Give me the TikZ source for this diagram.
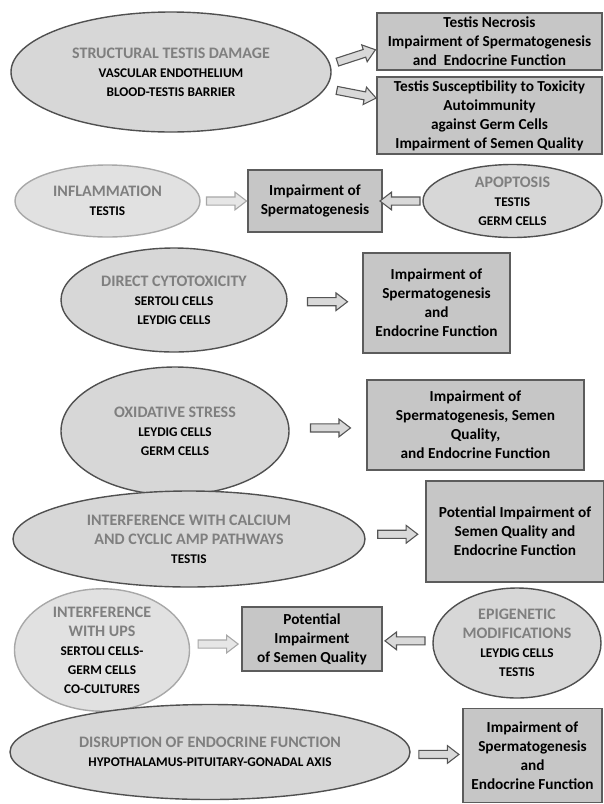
\documentclass[tikz,border=0pt]{standalone}
\usepackage{fontspec}
\setmainfont{Carlito}
\usepackage{tikz}
\usetikzlibrary{shapes,positioning}

\definecolor{ellfill}{HTML}{D7D7D7}
\definecolor{ellline}{HTML}{505050}
\definecolor{softfill}{HTML}{E1E1E1}
\definecolor{softline}{HTML}{A8A8A8}
\definecolor{boxfill}{HTML}{C6C6C6}
\definecolor{boxline}{HTML}{5C5C5C}
\definecolor{ttlgray}{HTML}{7F7F7F}
\definecolor{arrfill}{HTML}{D9D9D9}
\definecolor{arrline}{HTML}{555555}
\definecolor{softarr}{HTML}{E6E6E6}

\newcommand{\lowtx}{\color{black}\fontsize{13.3}{16}\selectfont}

\begin{document}
\begin{tikzpicture}[
    x=1pt, y=-1pt,
    cause/.style={ellipse, draw=ellline, fill=ellfill, line width=1.4pt, inner sep=0pt, align=center, font=\fontsize{16}{19}\selectfont\bfseries\color{ttlgray}},
    softcause/.style={cause, draw=softline, fill=softfill},
    effect/.style={rectangle, draw=boxline, fill=boxfill, line width=1.8pt, inner sep=2pt, align=center, font=\fontsize{15.3}{19}\selectfont\bfseries},
    push/.style={single arrow, draw=arrline, fill=arrfill, line width=1.1pt, minimum height=40pt, inner sep=3.5pt, single arrow head extend=4.8pt, single arrow head indent=0pt, single arrow tip angle=75},
    softpush/.style={push, draw=softline, fill=softarr},
    pull/.style={push, shape border rotate=180}
]
\useasboundingbox (0,0) rectangle (604,804);

% Structural damage (top)
\node[cause, minimum width=320pt, minimum height=120pt] (struct) at (171,72) {STRUCTURAL TESTIS DAMAGE\\\lowtx VASCULAR ENDOTHELIUM\\\lowtx BLOOD-TESTIS BARRIER};
\node[effect, minimum width=225pt, minimum height=57pt] (necrosis) at (489.5,41.5) {Testis Necrosis\\Impairment of Spermatogenesis\\and~~Endocrine Function};
\node[effect, minimum width=225pt, minimum height=77pt] (suscept) at (489.5,115.5) {Testis Susceptibility to Toxicity\\Autoimmunity\\against Germ Cells\\Impairment of Semen Quality};
\path (struct.east) -- (necrosis.west) node[midway, push, rotate=18] {};
\path (struct.east) -- (suscept.west) node[midway, push, rotate=-11] {};

% Inflammation / apoptosis
\node[softcause, minimum width=185pt, minimum height=72pt] (inflam) at (107.5,201) {INFLAMMATION\\\lowtx TESTIS};
\node[effect, minimum width=134pt, minimum height=62pt] (sperm_a) at (315,201) {Impairment of\\Spermatogenesis};
\node[cause, minimum width=179pt, minimum height=73pt] (apopt) at (512.5,201) {APOPTOSIS\\\lowtx TESTIS\\\lowtx GERM CELLS};
\path (inflam) -- node[softpush] {} (sperm_a);
\path (apopt) -- node[pull] {} (sperm_a);

% Direct cytotoxicity
\node[cause, minimum width=226pt, minimum height=104pt] (cytotox) at (174,300) {DIRECT CYTOTOXICITY\\\lowtx SERTOLI CELLS\\\lowtx LEYDIG CELLS};
\node[effect, minimum width=147pt, minimum height=100pt] (sperm_b) at (436.5,303) {Impairment of\\Spermatogenesis\\and\\Endocrine Function};
\path (cytotox) -- node[push] {} (sperm_b);

% Oxidative stress
\node[cause, minimum width=228pt, minimum height=128pt] (oxid) at (175,431) {OXIDATIVE STRESS\\\lowtx LEYDIG CELLS\\\lowtx GERM CELLS};
\node[effect, minimum width=217pt, minimum height=90pt] (sperm_c) at (475.5,425) {Impairment of\\Spermatogenesis, Semen\\Quality,\\and Endocrine Function};
\path (oxid) -- node[push] {} (sperm_c);

% Calcium and cAMP
\node[cause, minimum width=352pt, minimum height=96pt] (calcium) at (189,539) {INTERFERENCE WITH CALCIUM\\AND CYCLIC AMP PATHWAYS\\\lowtx TESTIS};
\node[effect, minimum width=178pt, minimum height=101pt] (semen_a) at (515,531.5) {Potential Impairment of\\Semen Quality and\\Endocrine Function};
\path (calcium) -- node[push] {} (semen_a);

% UPS / epigenetic
\node[softcause, minimum width=175pt, minimum height=108pt] (ups) at (102,650) {INTERFERENCE\\WITH UPS\\\lowtx SERTOLI CELLS-\\\lowtx GERM CELLS\\\lowtx CO-CULTURES};
\node[effect, minimum width=140pt, minimum height=64pt] (semen_b) at (312,639) {Potential\\Impairment\\of Semen Quality};
\node[cause, minimum width=168pt, minimum height=110pt] (epigen) at (517,643) {EPIGENETIC\\MODIFICATIONS\\\lowtx LEYDIG CELLS\\\lowtx TESTIS};
\path (ups) -- node[softpush] {} (semen_b);
\path (epigen) -- node[pull] {} (semen_b);

% Endocrine disruption (bottom)
\node[cause, minimum width=400pt, minimum height=95pt] (endo) at (210,752) {DISRUPTION OF ENDOCRINE FUNCTION\\\lowtx HYPOTHALAMUS-PITUITARY-GONADAL AXIS};
\node[effect, minimum width=139pt, minimum height=94pt] (sperm_d) at (532.5,755.5) {Impairment of\\Spermatogenesis\\and\\Endocrine Function};
\path (endo) -- node[push] {} (sperm_d);

\end{tikzpicture}
\end{document}
